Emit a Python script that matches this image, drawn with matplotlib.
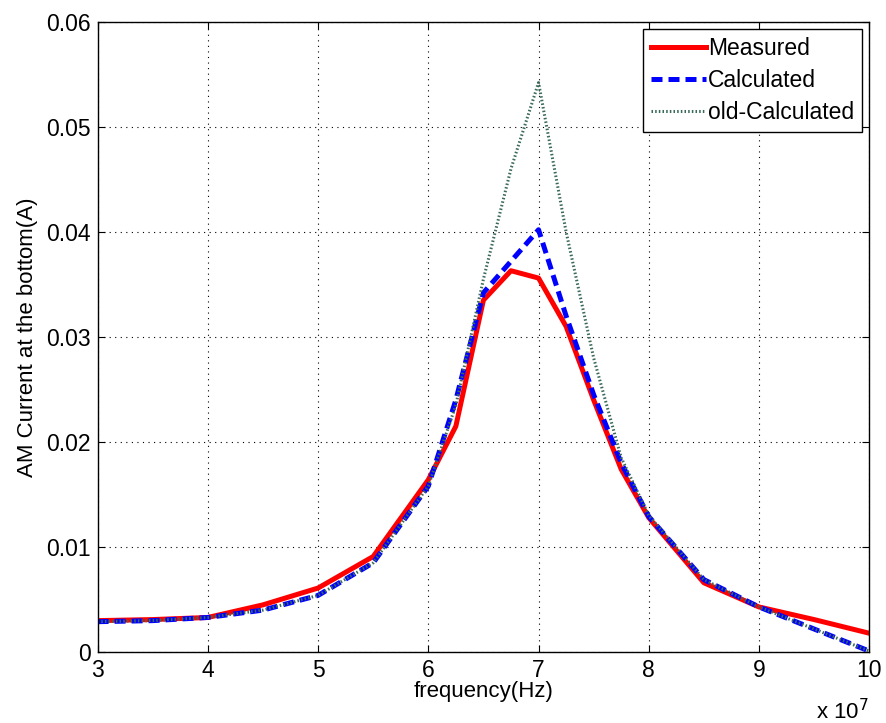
import numpy as np
import matplotlib.pyplot as plt

plt.rcParams['font.family'] = ['Liberation Sans', 'DejaVu Sans']

# frequency in units of 1e7 Hz
freq = [3, 3.5, 4, 4.5, 5, 5.5, 6, 6.25, 6.5, 6.75, 7, 7.25, 7.5, 7.75, 8, 8.5, 9, 9.5, 10]
measured = [0.0030, 0.0031, 0.0033, 0.0045, 0.0061, 0.0091, 0.0164, 0.0215, 0.0335, 0.0363,
            0.0356, 0.0310, 0.0240, 0.0174, 0.0128, 0.0066, 0.0043, 0.0031, 0.0018]
calculated = [0.0029, 0.0030, 0.0033, 0.0040, 0.0054, 0.0085, 0.0158, 0.0240, 0.0342, 0.0372,
              0.0402, 0.0320, 0.0245, 0.0180, 0.0129, 0.0069, 0.0043, 0.0022, 0.0001]
old_calculated = [0.0029, 0.0030, 0.0033, 0.0040, 0.0054, 0.0085, 0.0158, 0.0235, 0.0355, 0.0460,
                  0.0542, 0.0400, 0.0280, 0.0185, 0.0130, 0.0069, 0.0043, 0.0022, 0.0001]

fig = plt.figure(figsize=(8.87, 7.23), dpi=100)
ax = fig.add_axes([0.110, 0.098, 0.870, 0.872])

ax.plot(freq, measured, color='#ff0000', lw=3.6, label='Measured')
ax.plot(freq, calculated, color='#0000ff', lw=3.6, ls=(0, (2.2, 1.2)), label='Calculated')
ax.plot(freq, old_calculated, color='#3a6a5a', lw=2.2, ls=(0, (0.5, 0.7)), label='old-Calculated')

ax.set_xlim(3, 10)
ax.set_ylim(0, 0.06)
ax.set_xticks(range(3, 11))
ax.set_yticks([0, 0.01, 0.02, 0.03, 0.04, 0.05, 0.06])
ax.set_yticklabels(['0', '0.01', '0.02', '0.03', '0.04', '0.05', '0.06'])
ax.tick_params(direction='in', top=True, right=True, labelsize=16.5, length=5, pad=5)
ax.grid(True, color='black', ls=(0, (1, 4)), lw=0.8)
for s in ax.spines.values():
    s.set_linewidth(1.0)

ax.set_xlabel('frequency(Hz)', fontsize=16, labelpad=-1)
ax.set_ylabel('AM Current at the bottom(A)', fontsize=16, labelpad=6)
ax.text(1.0, -0.075, r'x 10$^7$', transform=ax.transAxes, fontsize=16, ha='right', va='top')

leg = ax.legend(loc='upper right', fontsize=16.5, fancybox=False, framealpha=1,
                edgecolor='black', handlelength=2.4, handletextpad=0.1,
                borderaxespad=0.3, labelspacing=0.4, borderpad=0.35)
leg.get_frame().set_linewidth(1.0)

fig.savefig('out.png', dpi=100)
